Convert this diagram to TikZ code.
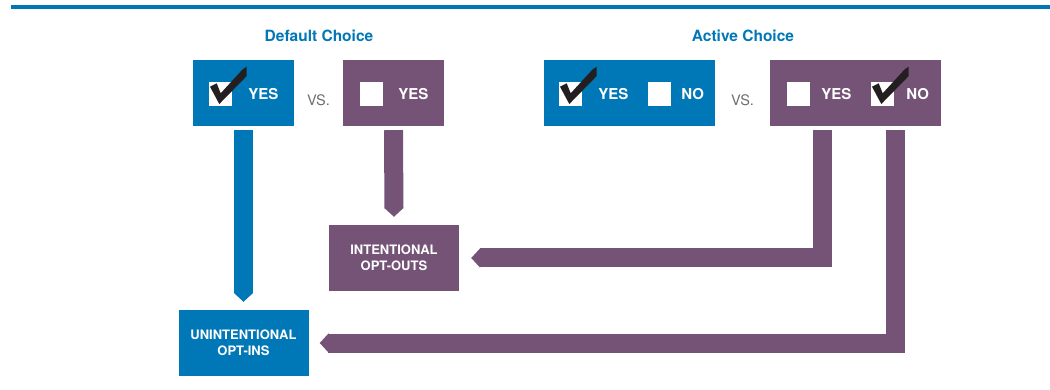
\documentclass[tikz,border=0pt]{standalone}
\usepackage{fontspec}
\setmainfont{TeX Gyre Heros}
\usetikzlibrary{arrows.meta, positioning}
\definecolor{choiceblue}{HTML}{0077B6}
\definecolor{choicepurple}{HTML}{745376}
\definecolor{vsgray}{HTML}{6D6E71}
\definecolor{tickblack}{HTML}{231F20}
\tikzset{
  panel/.style={fill=#1, minimum height=66pt, inner sep=0pt},
  optbox/.style={fill=white, minimum width=23pt, minimum height=24pt, inner sep=0pt},
  optlabel/.style={white, inner sep=0pt, font=\bfseries\fontsize{15}{18}\selectfont},
  outcome/.style={fill=#1, text=white, minimum width=130pt, minimum height=66pt, align=center, font=\bfseries\fontsize{13}{16}\selectfont},
  flow/.style={line width=19pt, color=#1, -{Triangle[width=0pt 1, length=9pt]}},
  headline/.style={choiceblue, font=\bfseries\fontsize{15.5}{18}\selectfont},
  versus/.style={vsgray, inner sep=0pt, font=\fontsize{14.5}{17}\selectfont},
  checkmk/.pic={\fill[tickblack] (-10.5,-7.3) -- (-3.8,-10.7) -- (0.2,-0.7) -- (22.2,-24.7) -- (26.2,-27.3) -- (26.2,-18) -- (-1.2,10) -- cycle;}
}
\begin{document}
\begin{tikzpicture}[x=1pt, y=-1pt]
\useasboundingbox (0,0) rectangle (1050,390);
\fill[choiceblue] (11,5) rectangle (1050,9);
\node[headline] (dtitle) at (319,36){Default Choice};
\node[headline] (atitle) at (743,36){Active Choice};
\node[panel=choiceblue, minimum width=101pt] (dyes) at (243.5,93){};
\node[optbox] (dyesbox) at (220.5,94){};
\node[optlabel, right=16pt of dyesbox] (dyeslbl){YES};
\pic at (dyesbox) {checkmk};
\node[versus] (dvs) at (318.5,100.5){VS.};
\node[panel=choicepurple, minimum width=101pt] (dno) at (393.5,93){};
\node[optbox] (dnobox) at (371.5,94){};
\node[optlabel, right=15pt of dnobox] (dnolbl){YES};
\node[panel=choiceblue, minimum width=171pt] (ayes) at (629.5,93){};
\node[optbox] (ayesbox) at (570.5,94){};
\node[optlabel, right=16pt of ayesbox] (ayeslbl){YES};
\node[optbox] (ayesbox2) at (659.5,94){};
\node[optlabel, right=10pt of ayesbox2] (ayeslbl2){NO};
\pic at (ayesbox) {checkmk};
\node[versus] (avs) at (742.5,100.5){VS.};
\node[panel=choicepurple, minimum width=171pt] (ano) at (855.5,93){};
\node[optbox] (anobox) at (798.5,94){};
\node[optlabel, right=11pt of anobox] (anolbl){YES};
\node[optbox] (anobox2) at (882.5,94){};
\node[optlabel, right=12pt of anobox2] (anolbl2){NO};
\pic at (anobox2) {checkmk};
\node[outcome=choicepurple] (optouts) at (394,258){INTENTIONAL\\OPT-OUTS};
\node[outcome=choiceblue] (optins) at (243.5,343){UNINTENTIONAL\\OPT-INS};
\draw[flow=choiceblue] ([yshift=-4pt]dyes.south) -- ([yshift=8pt]optins.north);
\draw[flow=choicepurple] ([yshift=-4pt]dno.south) -- ([yshift=8pt]optouts.north);
\draw[flow=choicepurple] ([xshift=-33pt, yshift=-4pt]ano.south) |- ([xshift=12pt]optouts.east);
\draw[flow=choicepurple] ([xshift=40pt, yshift=-4pt]ano.south) |- ([xshift=11pt]optins.east);
\end{tikzpicture}
\end{document}
